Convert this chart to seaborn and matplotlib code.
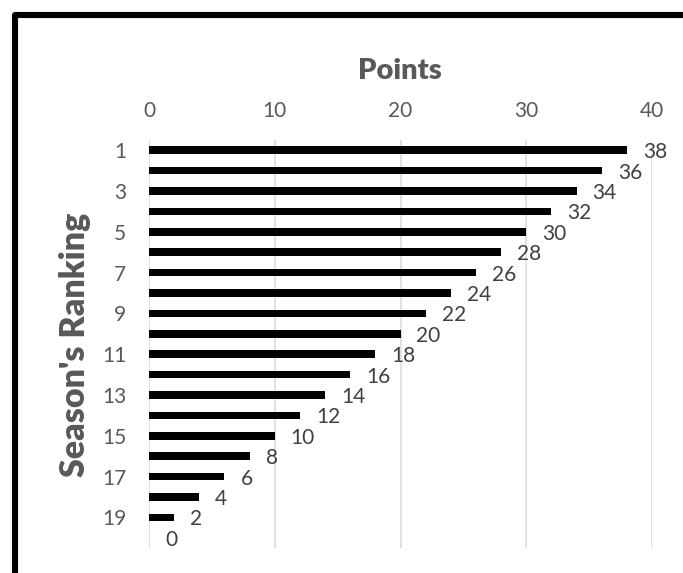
import matplotlib
matplotlib.use("Agg")
import matplotlib.pyplot as plt
from matplotlib.lines import Line2D
import seaborn as sns
import pandas as pd

# ---- data ----
rankings = ["1", "2", "3", "4", "5", "6", "7", "8", "9", "10",
            "11", "12", "13", "14", "15", "16", "17", "18", "19", "20"]
points = [38, 36, 34, 32, 30, 28, 26, 24, 22, 20,
          18, 16, 14, 12, 10, 8, 6, 4, 2, 0]
ytick_labels = ["1", "3", "5", "7", "9", "11", "13", "15", "17", "19"]
xtick_values = [0, 10, 20, 30, 40]
x_title = "Points"
y_title = "Season's Ranking"

df = pd.DataFrame({"ranking": rankings, "points": points})

sns.set_style("white")
plt.rcParams["font.family"] = ["Lato", "DejaVu Sans"]

W, H = 683, 573
fig = plt.figure(figsize=(W / 100, H / 100), dpi=100)
ax = fig.add_axes([149 / W, 1 - 548 / H, (652 - 149) / W, (548 - 140) / H])

sns.barplot(data=df, y="ranking", x="points", order=rankings, orient="h",
            color="black", width=0.37, ax=ax, saturation=1)
for p in ax.patches:
    p.set_edgecolor("none")

ax.set_xlim(0, 40)
ax.set_xticks(xtick_values)
ax.set_xticklabels([str(v) for v in xtick_values])
ax.xaxis.tick_top()
ax.set_yticks([rankings.index(l) for l in ytick_labels])
ax.set_yticklabels(ytick_labels)
ax.tick_params(axis="x", length=0, pad=13.5, labelsize=15, labelcolor="#595959")
ax.tick_params(axis="y", length=0, pad=16.5, labelsize=15, labelcolor="#595959")
ax.set_xlabel("")
ax.set_ylabel("")

ax.grid(axis="x", color="#d9d9d9", linewidth=1.1)
ax.grid(axis="y", visible=False)
ax.set_axisbelow(True)
for s in ax.spines.values():
    s.set_visible(False)

# data labels
for r, v in zip(rankings, points):
    ax.annotate(str(v), xy=(v, rankings.index(r)), xytext=(11.5, -1.5),
                textcoords="offset points", ha="left", va="center",
                fontsize=15, color="#404040")

# titles
fig.text(400 / W, 1 - 79 / H, x_title, ha="center", va="baseline",
         fontsize=21, fontweight="heavy", color="#595959")
fig.text(75 / W, 1 - 344.5 / H, y_title, ha="center", va="center",
         rotation=90, fontsize=24.5, fontweight="heavy", color="#595959")

# chart border (top-left visible portion)
fig.add_artist(Line2D([15 / W, 15 / W, 1.2], [-0.2, 1 - 15 / H, 1 - 15 / H],
                      transform=fig.transFigure, color="black", linewidth=4.4,
                      solid_joinstyle="round"))

fig.savefig("out.png", dpi=100)
